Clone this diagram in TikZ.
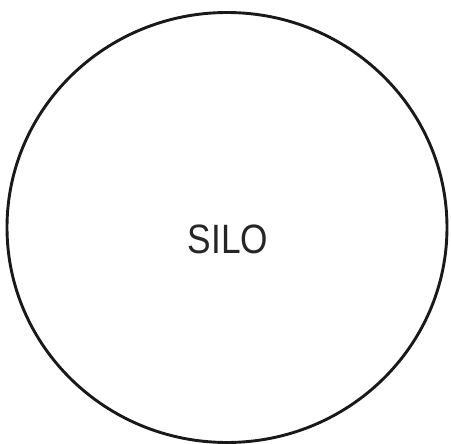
\documentclass[tikz,border=0pt]{standalone}
\usepackage{fontspec}
\setmainfont{Liberation Sans}
\begin{document}
\begin{tikzpicture}[x=1pt,y=-1pt,
  silo/.style={draw=black!90, line width=2.9pt},
  label/.style={font=\fontsize{41}{41}\selectfont, text=black!85, inner sep=0pt, xscale=0.86}]
\useasboundingbox (0,0) rectangle (451,444);
\fill[white] (0,0) rectangle (451,444);
\draw[silo] (227,227.5) ellipse [x radius=220, y radius=215];
\node[label] (silo) at (228,239) {SILO};
\end{tikzpicture}
\end{document}
